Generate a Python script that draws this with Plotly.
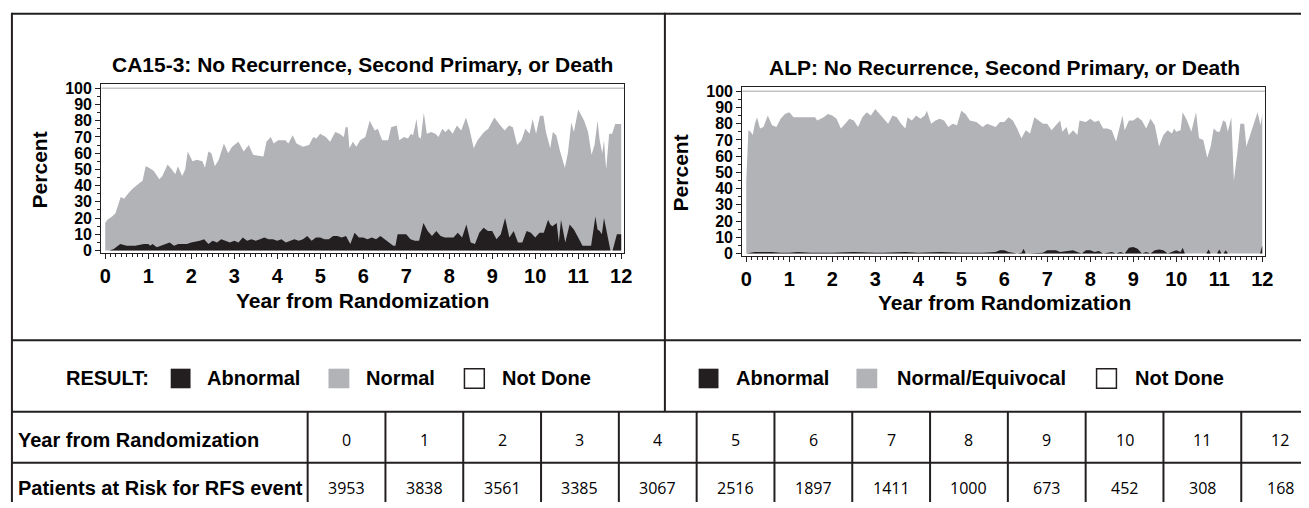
import plotly.graph_objects as go

W, H = 1309, 508

# ---------------- data ----------------
ca_normal_x = [0.00,0.05,0.16,0.24,0.36,0.44,0.53,0.63,0.77,0.87,
               0.94,1.02,1.13,1.26,1.33,1.45,1.55,1.63,1.69,1.79,
               1.86,1.92,2.03,2.13,2.26,2.32,2.40,2.47,2.55,2.64,
               2.76,2.86,2.95,3.10,3.22,3.34,3.44,3.68,3.75,3.85,
               3.92,4.02,4.19,4.26,4.36,4.45,4.60,4.74,4.84,4.91,
               5.00,5.13,5.23,5.35,5.45,5.55,5.59,5.64,5.68,5.76,
               5.84,5.93,6.05,6.15,6.27,6.34,6.44,6.58,6.65,6.78,
               6.84,6.95,7.04,7.11,7.16,7.24,7.29,7.34,7.41,7.48,
               7.58,7.68,7.75,7.84,7.91,7.99,8.08,8.18,8.28,8.39,
               8.47,8.57,8.66,8.81,8.91,9.05,9.19,9.29,9.39,9.48,
               9.58,9.68,9.77,9.87,9.94,10.02,10.11,10.19,10.25,10.35,
               10.41,10.49,10.58,10.69,10.76,10.84,10.90,11.00,11.14,11.23,
               11.31,11.38,11.45,11.50,11.56,11.60,11.65,11.72,11.79,11.86,
               11.93,12.00]
ca_normal_top = [17,19,21,23,33,32,35,38,41,43,
                 52,51,49,44,46,53,50,47,52,46,
                 50,61,55,56,55,51,61,60,52,56,
                 66,60,64,67,61,65,59,58,67,70,
                 66,68,68,66,71,66,64,65,70,69,
                 72,70,67,73,72,70,76,76,63,67,
                 64,68,70,80,74,75,68,68,76,77,
                 68,70,69,72,71,81,70,69,85,72,
                 73,72,70,75,73,75,72,77,74,82,
                 75,63,68,73,75,82,77,74,77,76,
                 65,68,75,72,81,72,83,83,73,63,
                 73,71,61,51,60,79,73,87,80,73,
                 59,65,80,68,60,68,50,72,72,78,
                 78,78]

ca_abn_x = [0.0,0.1,0.2,0.3,0.35,0.5,0.7,0.9,1.0,1.05,
            1.1,1.2,1.3,1.4,1.5,1.6,1.7,1.8,1.9,2.0,
            2.2,2.3,2.4,2.5,2.6,2.7,2.8,2.9,3.0,3.1,
            3.2,3.3,3.4,3.5,3.6,3.7,3.8,3.9,4.0,4.1,
            4.2,4.3,4.4,4.5,4.6,4.7,4.8,4.9,5.0,5.1,
            5.2,5.3,5.4,5.5,5.6,5.7,5.8,5.9,6.0,6.1,
            6.2,6.3,6.4,6.5,6.6,6.7,6.75,6.8,6.9,7.0,
            7.1,7.2,7.3,7.4,7.5,7.6,7.7,7.8,7.9,8.0,
            8.1,8.2,8.3,8.4,8.5,8.6,8.7,8.8,8.9,9.0,
            9.1,9.2,9.3,9.4,9.5,9.6,9.7,9.8,9.9,10.0,
            10.1,10.2,10.3,10.35,10.4,10.5,10.55,10.6,10.7,10.8,
            10.9,11.0,11.1,11.2,11.3,11.4,11.45,11.5,11.55,11.6,
            11.7,11.75,11.8,11.85,11.9,12.0]
ca_abn = [0,0,1,3,4,3,3,4,4,3,
          4,2,3,4,5,3,4,4,4,5,
          6,7,4,6,5,7,6,5,6,5,
          8,6,7,6,7,8,7,7,6,7,
          5,6,7,6,7,9,6,8,8,7,
          7,9,9,8,9,4,11,8,8,7,
          8,7,9,7,5,3,3,10,10,10,
          7,6,6,17,12,9,12,9,8,8,
          8,11,8,16,5,4,11,14,12,12,
          7,10,20,8,12,5,5,12,11,8,
          11,11,19,16,15,17,5,19,5,16,
          13,8,3,3,3,21,13,12,10,20,
          5,0,0,5,10,10]

alp_normal_x = [0.0,0.05,0.1,0.15,0.2,0.25,0.32,0.4,0.5,0.6,
                0.7,0.8,0.9,1.0,1.1,1.3,1.6,1.65,1.8,1.9,
                2.0,2.1,2.2,2.3,2.4,2.5,2.6,2.7,2.8,2.9,
                3.0,3.1,3.2,3.3,3.4,3.5,3.6,3.7,3.75,3.85,
                3.95,4.05,4.15,4.2,4.3,4.4,4.5,4.6,4.7,4.8,
                4.9,5.0,5.1,5.2,5.35,5.5,5.6,5.7,5.8,5.9,
                6.0,6.1,6.2,6.3,6.4,6.5,6.6,6.7,6.8,6.9,
                7.0,7.1,7.2,7.3,7.35,7.45,7.5,7.6,7.7,7.75,
                7.9,8.0,8.1,8.2,8.3,8.4,8.5,8.6,8.75,8.8,
                8.9,9.0,9.1,9.2,9.3,9.4,9.5,9.6,9.7,9.8,
                9.9,9.95,10.0,10.1,10.15,10.25,10.35,10.46,10.53,10.63,
                10.72,10.8,10.87,10.95,11.01,11.09,11.15,11.2,11.28,11.34,
                11.42,11.49,11.58,11.63,11.73,11.89,11.96,12.0]
alp_normal_top = [45,76,75,73,80,84,77,78,85,79,
                  78,83,86,87,84,84,84,82,84,86,
                  85,83,77,80,83,82,78,84,87,85,
                  89,86,83,80,85,84,80,77,84,82,
                  85,83,85,88,80,82,83,82,78,80,
                  79,88,86,82,81,78,80,79,78,81,
                  81,84,82,77,71,76,74,84,82,80,
                  80,76,79,82,75,78,73,76,73,82,
                  81,83,81,82,77,77,76,69,85,76,
                  82,82,84,82,77,83,79,66,73,76,
                  74,77,75,76,87,82,75,87,71,70,
                  59,66,77,75,75,82,81,75,84,45,
                  62,80,80,66,74,87,79,86]

alp_abn_x = [0.0,0.2,0.3,0.5,0.6,0.8,1.0,1.2,1.5,2.0,
             2.5,3.0,3.2,3.7,4.0,4.5,5.0,5.5,5.8,5.9,
             6.0,6.1,6.3,6.4,6.45,6.5,6.9,7.0,7.2,7.3,
             7.45,7.5,7.6,7.7,7.8,7.9,8.0,8.1,8.2,8.3,
             8.5,8.6,8.7,8.8,8.9,9.0,9.1,9.2,9.3,9.4,
             9.5,9.6,9.7,9.8,10.0,10.1,10.15,10.2,10.7,10.75,
             10.8,10.95,11.0,11.05,11.1,11.15,11.2,11.95,12.0]
alp_abn = [0,1,1,1,1,0.5,0.5,1,0.5,0.5,
           1,0.5,0.5,1,0.5,1,0.5,0.5,1,2,
           2,1,0,0.5,3,0,0.5,2,2,1,
           1.5,2,2,1,0,2,2,1,1.5,0,
           1,0,1,0,3.5,4,3,0,1,0,
           2,2.5,2,0,2,1,3.5,0,0,2.5,
           0,0,2.5,0,0,2,0,0,5]

x_ticks = list(range(0, 13))
y_ticks = list(range(0, 101, 10))

table_years = list(range(0, 13))
patients_at_risk = [3953, 3838, 3561, 3385, 3067, 2516, 1897, 1411, 1000, 673, 452, 308, 168]

titles = ["CA15-3: No Recurrence, Second Primary, or Death",
          "ALP: No Recurrence, Second Primary, or Death"]
legend_left = ["Abnormal", "Normal", "Not Done"]
legend_right = ["Abnormal", "Normal/Equivocal", "Not Done"]

# ---------------- style ----------------
GREY = "#b2b3b7"
BLACK = "#231f20"
LINE = "#231f20"
FONT = "Liberation Sans, Arial, sans-serif"
NUMFONT = "Open Sans, Noto Sans, sans-serif"


def px(x):
    return x / W


def py(y):
    return 1 - y / H


fig = go.Figure()

panels = [
    dict(xa="x", ya="y", nx=ca_normal_x, ny=ca_normal_top, ax=ca_abn_x, ay=ca_abn),
    dict(xa="x2", ya="y2", nx=alp_normal_x, ny=alp_normal_top, ax=alp_abn_x, ay=alp_abn),
]
for p in panels:
    fig.add_trace(go.Scatter(x=p["nx"], y=p["ny"], xaxis=p["xa"], yaxis=p["ya"],
                             mode="lines", line=dict(width=0, color=GREY),
                             fill="tozeroy", fillcolor=GREY, hoverinfo="skip",
                             showlegend=False))
    fig.add_trace(go.Scatter(x=p["ax"], y=p["ay"], xaxis=p["xa"], yaxis=p["ya"],
                             mode="lines", line=dict(width=0, color=BLACK),
                             fill="tozeroy", fillcolor=BLACK, hoverinfo="skip",
                             showlegend=False))

xr = [-0.092, 12.07]
yr = [-1.5, 102.4]
common_x = dict(range=xr, tickvals=x_ticks, ticks="outside", ticklen=5, tickwidth=1.2,
                tickcolor=LINE, showline=True, linecolor=LINE, linewidth=1.2, mirror=True,
                showgrid=False, zeroline=False,
                tickfont=dict(family=FONT, size=20, color="#000", weight="bold"),
                minor=dict(dtick=0.125, ticks="outside", ticklen=3, tickcolor=LINE, tickwidth=1,
                           showgrid=False))
common_y = dict(range=yr, tickvals=y_ticks, ticks="outside", ticklen=5, tickwidth=1.2,
                tickcolor=LINE, showline=True, linecolor=LINE, linewidth=1.2, mirror=True,
                showgrid=False, zeroline=False,
                tickfont=dict(family=FONT, size=16, color="#000", weight="bold"),
                minor=dict(dtick=5, ticks="outside", ticklen=3, tickcolor=LINE, tickwidth=1,
                           showgrid=False))

fig.update_layout(
    width=W, height=H, margin=dict(l=0, r=0, t=0, b=0),
    paper_bgcolor="white", plot_bgcolor="white",
    xaxis=dict(domain=[px(100), px(627)], anchor="y", **common_x),
    yaxis=dict(domain=[py(254), py(82)], anchor="x", **common_y),
    xaxis2=dict(domain=[px(746), px(1273)], anchor="y2", **common_x),
    yaxis2=dict(domain=[py(257), py(85)], anchor="x2", **common_y),
)

shapes = []
# light reference line at 100 %
for xa, ya in (("x", "y"), ("x2", "y2")):
    shapes.append(dict(type="line", xref=xa, yref=ya, x0=xr[0], x1=xr[1], y0=100, y1=100,
                       line=dict(color="#c4c4c4", width=1.5), layer="above"))


def hline(y, x0, x1):
    shapes.append(dict(type="line", xref="paper", yref="paper", x0=px(x0), x1=px(x1),
                       y0=py(y), y1=py(y), line=dict(color=LINE, width=2)))


def vline(x, y0, y1):
    shapes.append(dict(type="line", xref="paper", yref="paper", x0=px(x), x1=px(x),
                       y0=py(y0), y1=py(y1), line=dict(color=LINE, width=2)))


# frame / table grid
hline(10, 10, W)
hline(343, 10, W)
hline(416, 10, W)
hline(468, 10, W)
vline(10, 9, H)
vline(668, 9, 416)
col0 = 308
colw = 78.4
for i in range(len(table_years)):
    vline(col0 + i * colw, 416, H)

annotations = []


def text(x, y, s, size=20, anchor="center", family=FONT, bold=True, angle=0):
    annotations.append(dict(x=px(x), y=py(y), xref="paper", yref="paper", text=s,
                            showarrow=False, xanchor=anchor, yanchor="middle", textangle=angle,
                            font=dict(family=family, size=size, color="#000",
                                      weight="bold" if bold else "normal")))


# titles and axis titles
text(363, 62, titles[0], size=21)
text(1010, 65, titles[1], size=21)
text(38, 169, "Percent", size=21, angle=-90)
text(684, 172, "Percent", size=21, angle=-90)
text(363, 302, "Year from Randomization", size=21)
text(1010, 304, "Year from Randomization", size=21)

# legends
LY = 382


def box(x0, x1, fill, border):
    shapes.append(dict(type="rect", xref="paper", yref="paper", x0=px(x0), x1=px(x1),
                       y0=py(LY + 10), y1=py(LY - 10), fillcolor=fill,
                       line=dict(color=border, width=1.5 if border != fill else 0)))


text(62, LY, "RESULT:", size=20, anchor="left")
box(170, 190, BLACK, BLACK)
text(205, LY, legend_left[0], size=20, anchor="left")
box(329, 350, GREY, GREY)
text(365, LY, legend_left[1], size=20, anchor="left")
box(466, 486, "white", LINE)
text(502, LY, legend_left[2], size=20, anchor="left")

box(702, 722, BLACK, BLACK)
text(738, LY, legend_right[0], size=20, anchor="left")
box(861, 882, GREY, GREY)
text(900, LY, legend_right[1], size=20, anchor="left")
box(1103, 1123, "white", LINE)
text(1140, LY, legend_right[2], size=20, anchor="left")

# table
text(14, 445, "Year from Randomization", size=20, anchor="left")
text(14, 494, "Patients at Risk for RFS event", size=20, anchor="left")
for i, (yv, n) in enumerate(zip(table_years, patients_at_risk)):
    cx = col0 + (i + 0.5) * colw
    text(cx, 445, str(yv), size=16, family=NUMFONT, bold=False)
    text(cx, 494, str(n), size=16, family=NUMFONT, bold=False)

fig.update_layout(shapes=shapes, annotations=annotations)
fig.write_html("out.html", config={"displayModeBar": False},
               post_script="document.body.style.margin='0';document.body.style.padding='0';")
